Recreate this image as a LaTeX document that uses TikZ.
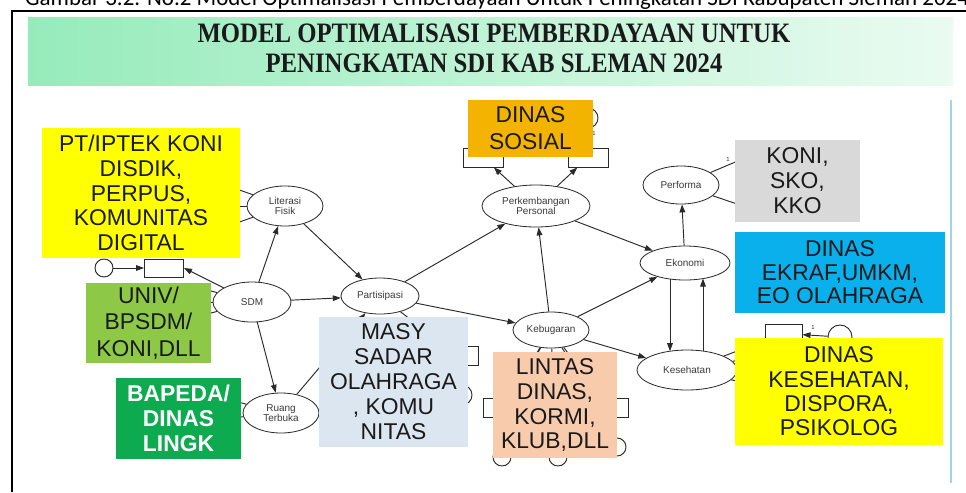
\documentclass[tikz,border=0pt]{standalone}
\usepackage{fontspec}
\setmainfont{Liberation Sans}
\newfontfamily\titlefont[FakeStretch=0.88]{Liberation Serif}
\newfontfamily\capfont{Carlito}
\usetikzlibrary{shapes.geometric,arrows.meta}
\definecolor{linec}{HTML}{2A2A2A}
\definecolor{txtgray}{HTML}{3A3A3A}
\definecolor{boxtext}{HTML}{1A1A1A}
\definecolor{cYellow}{HTML}{FFFF00}
\definecolor{cAmber}{HTML}{F5B301}
\definecolor{cGray}{HTML}{D9D9D9}
\definecolor{cBlue}{HTML}{0AB0EC}
\definecolor{cLGreen}{HTML}{8DC947}
\definecolor{cDGreen}{HTML}{0DAA4F}
\definecolor{cPale}{HTML}{DCE6F1}
\definecolor{cPeach}{HTML}{F8CBAD}
\definecolor{bannerL}{HTML}{96EBBB}
\definecolor{bannerR}{HTML}{EAFBF1}
\definecolor{sideblue}{HTML}{9FD4EC}
\begin{document}
\begin{tikzpicture}[x=0.03cm,y=-0.03cm,
  lat/.style={ellipse, draw=linec, line width=0.7pt, fill=white, inner sep=0pt,
     font=\fontsize{8.5}{9}\selectfont, text=txtgray, align=center},
  arr/.style={draw=linec, line width=0.8pt, -{Triangle[length=2.4mm,width=1.7mm]}},
  ln/.style={draw=linec, line width=0.8pt},
  ind/.style={rectangle, draw=linec, line width=0.8pt, fill=white, inner sep=0pt},
  err/.style={circle, draw=linec, line width=0.8pt, fill=white, inner sep=0pt},
  one/.style={font=\fontsize{5}{5}\selectfont, text=linec, inner sep=0pt},
  box/.style={rectangle, inner sep=0pt, align=center, text=boxtext},
  btxt/.style={font=\fontsize{19.5}{#1}\selectfont},
  btxt/.default=21,
  bbtxt/.style={font=\bfseries\fontsize{19.5}{#1}\selectfont}]
\useasboundingbox (0,0) rectangle (966,492);
\fill[white] (0,0) rectangle (966,492);
% caption (cut at top, as in the reference)
\node[anchor=base west, inner sep=0pt, font=\capfont\fontsize{19.6}{20}\selectfont] (cap) at (25,5)
  {Gambar 3.2. No.2 Model Optimalisasi Pemberdayaan Untuk Peningkatan SDI Kabupaten Sleman 2024};
% frame
\draw[black, line width=1.7pt] (12,492) -- (12,11) -- (966,11);
\draw[sideblue, line width=1.4pt] (951,100) -- (951,483);
\shade[left color=bannerL, right color=bannerR] (28,17) rectangle (953,85);
\node[font=\titlefont\bfseries\fontsize{24}{25.5}\selectfont, align=center, text=boxtext] (title) at (494,48)
  {MODEL OPTIMALISASI PEMBERDAYAAN UNTUK\\PENINGKATAN SDI KAB SLEMAN 2024};

% latent variables
\node[lat, minimum width=2.28cm, minimum height=1.2cm] (lit) at (285,206) {Literasi\\Fisik};
\node[lat, minimum width=2.34cm, minimum height=1.2cm] (sdm) at (252,302) {SDM};
\node[lat, minimum width=2.34cm, minimum height=1.08cm] (par) at (380,296) {Partisipasi};
\node[lat, minimum width=2.28cm, minimum height=1.2cm] (rua) at (281,413) {Ruang\\Terbuka};
\node[lat, minimum width=3.24cm, minimum height=1.26cm] (per) at (536,206) {Perkembangan\\Personal};
\node[lat, minimum width=2.28cm, minimum height=1.08cm] (keb) at (551,330) {Kebugaran};
\node[lat, minimum width=2.28cm, minimum height=1.14cm] (prf) at (681,185) {Performa};
\node[lat, minimum width=2.7cm, minimum height=1.02cm] (eko) at (685,263) {Ekonomi};
\node[lat, minimum width=3.0cm, minimum height=1.2cm] (kes) at (687,370) {Kesehatan};

% indicators and error terms
\node[ind, minimum width=1.17cm, minimum height=0.54cm] (r1) at (164,268) {};
\node[err, minimum size=0.54cm] (c1) at (104,268) {};
\node[ind, minimum width=1.2cm, minimum height=0.57cm] (r2) at (483,157.5) {};
\node[ind, minimum width=1.2cm, minimum height=0.57cm] (r3) at (588,157.5) {};
\node[err, minimum size=0.6cm] (c2) at (483,118) {};
\node[err, minimum size=0.6cm] (c3) at (588,118) {};
\node[ind, minimum width=1.11cm, minimum height=0.57cm] (r4) at (783.5,333.5) {};
\node[err, minimum size=0.72cm] (c4) at (840,337) {};
\node[ind, minimum width=1.2cm, minimum height=0.57cm] (r7) at (458,356) {};
\node[err, minimum size=0.6cm] (c7) at (462,395) {};
\node[ind, minimum width=1.2cm, minimum height=0.57cm] (r5) at (503,407.5) {};
\node[ind, minimum width=1.2cm, minimum height=0.57cm] (r6) at (608,407.5) {};
\node[err, minimum size=0.54cm] (c5) at (502,457) {};
\node[err, minimum size=0.54cm] (c6) at (558,457) {};
\node[err, minimum size=0.54cm] (c8) at (617,447) {};

% free ends of short stubs (hidden behind the boxes)
\coordinate (lA) at (228,186); \coordinate (lB) at (228,206); \coordinate (lC) at (228,226);
\coordinate (sA) at (200,288); \coordinate (sB) at (200,302); \coordinate (sC) at (200,316);
\coordinate (tA) at (230,400); \coordinate (tB) at (230,418);
\coordinate (kA) at (750,358); \coordinate (kB) at (750,384);
\coordinate (pA) at (740,160); \coordinate (pB) at (740,205);
\coordinate (bA) at (522,380); \coordinate (bB) at (553,380); \coordinate (bC) at (582,380);

% structural paths
\draw[arr] (sdm) -- (lit);
\draw[arr] (sdm) -- (par);
\draw[arr] (sdm) -- (rua);
\draw[arr] (lit) -- (par);
\draw[arr] (rua) -- (par);
\draw[arr] (par) -- (per);
\draw[arr] (par) -- (keb);
\draw[arr] (keb) -- (per);
\draw[arr] (keb) -- (eko);
\draw[arr] (keb) -- (kes);
\draw[arr] (per) -- (eko);
\draw[arr] (eko) -- (prf);
\draw[arr] ([shift={(-15,16)}]eko.center) -- ([shift={(-17,-18.8)}]kes.center);
\draw[arr] ([shift={(16,-18.9)}]kes.center) -- ([shift={(18,15.6)}]eko.center);

% measurement paths
\draw[arr] (sdm) -- (r1.east);
\draw[arr] (c1) -- (r1);
\draw[arr] (per) -- (r2);
\draw[arr] (per) -- (r3);
\draw[arr] (c2) -- (r2);
\draw[arr] (c3) -- (r3);
\draw[arr] (kes) -- (r4);
\draw[arr] (c4) -- (r4);
\draw[arr] (par) -- (r7);
\draw[arr] (c7) -- (r7);
\draw[arr] (keb) -- (r5);
\draw[arr] (keb) -- (r6);
\draw[arr] (c5) -- (r5);
\draw[arr] (c8) -- (r6);
\foreach \p in {lA,lB,lC} \draw[ln] (lit) -- (\p);
\foreach \p in {sA,sB,sC} \draw[ln] (sdm) -- (\p);
\foreach \p in {tA,tB} \draw[ln] (rua) -- (\p);
\foreach \p in {kA,kB} \draw[ln] (kes) -- (\p);
\foreach \p in {pA,pB} \draw[ln] (prf) -- (\p);
\foreach \p in {bA,bB,bC} \draw[ln] (keb) -- (\p);
\node[one] (o1) at (497,172) {1};
\node[one] (o2) at (728,159) {1};
\node[one] (o3) at (813,327) {1};
\node[one] (o4) at (594,133) {1};

% stakeholder boxes
\node[box, fill=cYellow, minimum width=5.94cm, minimum height=3.9cm, btxt] (bY1) at (141,193)
  {PT/IPTEK KONI\\DISDIK,\\PERPUS,\\KOMUNITAS\\DIGITAL};
\node[box, fill=cAmber, minimum width=3.75cm, minimum height=1.71cm, btxt=23] (bSos) at (530.5,128.5)
  {DINAS\\SOSIAL};
\node[box, fill=cGray, minimum width=3.75cm, minimum height=2.46cm, btxt=21.3] (bKoni) at (797.5,181)
  {KONI,\\SKO,\\KKO};
\node[box, fill=cBlue, minimum width=6.3cm, minimum height=2.43cm, btxt=20] (bEkr) at (840,272.5)
  {DINAS\\EKRAF,UMKM,\\EO OLAHRAGA};
\node[box, fill=cLGreen, minimum width=3.75cm, minimum height=2.4cm, btxt=22.5] (bUniv) at (148.5,323)
  {UNIV/\\BPSDM/\\KONI,DLL};
\node[box, fill=cDGreen, minimum width=3.75cm, minimum height=2.43cm, bbtxt=21.3, text=white] (bBap) at (178.5,418.5)
  {BAPEDA/\\DINAS\\LINGK};
\node[box, fill=cPale, minimum width=4.47cm, minimum height=3.9cm, btxt=21.3] (bMasy) at (393.5,382)
  {MASY\\SADAR\\OLAHRAGA\\, KOMU\\NITAS};
\node[box, fill=cPeach, minimum width=3.72cm, minimum height=3.18cm, btxt=21.3] (bLin) at (555,405)
  {LINTAS\\DINAS,\\KORMI,\\KLUB,DLL};
\node[box, fill=cYellow, minimum width=6.24cm, minimum height=3.21cm, btxt=20.8] (bKes) at (839,391.5)
  {DINAS\\KESEHATAN,\\DISPORA,\\PSIKOLOG};
\end{tikzpicture}
\end{document}
